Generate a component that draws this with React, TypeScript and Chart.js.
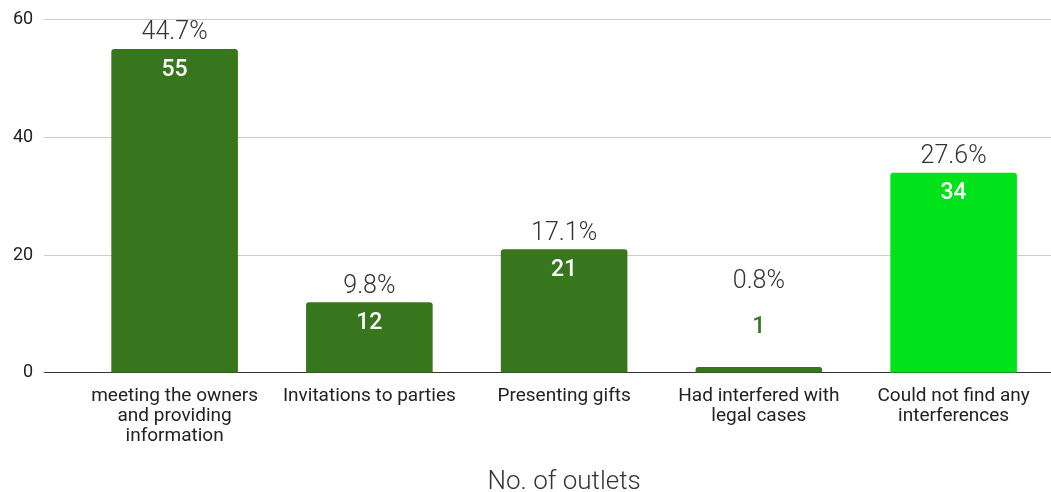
import React, { useEffect, useRef } from 'react';
import { Chart, registerables } from 'chart.js';

Chart.register(...registerables);

const categories: string[][] = [
  ['meeting the owners', 'and providing', 'information'],
  ['Invitations to parties'],
  ['Presenting gifts'],
  ['Had interfered with', 'legal cases'],
  ['Could not find any', 'interferences'],
];
const outletCounts = [55, 12, 21, 1, 34];
const percentShares = [44.7, 9.8, 17.1, 0.8, 27.6];
const yMin = 0;
const yMax = 60;
const yStep = 20;
const barColors = ['#38761d', '#38761d', '#38761d', '#38761d', '#00e31b'];
const axisTitle = 'No. of outlets';

const labelPlugin = {
  id: 'barLabels',
  afterDatasetsDraw(chart: any) {
    const ctx = chart.ctx;
    const meta = chart.getDatasetMeta(0);
    meta.data.forEach((bar: any, i: number) => {
      const { x, y, base } = bar.getProps(['x', 'y', 'base'], true);
      const h = base - y;
      ctx.save();
      ctx.textAlign = 'center';
      ctx.textBaseline = 'middle';
      ctx.font = '500 23px Roboto';
      let valueY: number;
      const inside = h > 40;
      if (inside) {
        ctx.fillStyle = '#ffffff';
        valueY = y + 21;
      } else {
        ctx.fillStyle = barColors[i];
        valueY = y - 40;
      }
      ctx.fillText(String(outletCounts[i]), x, valueY);
      ctx.font = '300 25px Roboto';
      ctx.fillStyle = '#333333';
      const pctY = inside ? y - 16 : valueY - 45;
      ctx.fillText(percentShares[i].toFixed(1) + '%', x, pctY);
      ctx.restore();
    });
  },
};

export default function App() {
  const ref = useRef<HTMLCanvasElement | null>(null);

  useEffect(() => {
    if (!ref.current) return;
    Chart.defaults.font.family = 'Roboto';
    const chart = new Chart(ref.current, {
      type: 'bar',
      data: {
        labels: categories,
        datasets: [
          {
            data: outletCounts,
            backgroundColor: barColors,
            borderRadius: 3,
            barPercentage: 0.65,
            categoryPercentage: 1,
          },
        ],
      },
      options: {
        responsive: false,
        animation: false,
        layout: { padding: { left: 2, right: 0, top: 0, bottom: 0 } },
        plugins: {
          legend: { display: false },
          tooltip: { enabled: false },
        },
        scales: {
          x: {
            grid: { display: false, drawTicks: false },
            border: { display: false },
            ticks: {
              autoSkip: false,
              maxRotation: 0,
              minRotation: 0,
              padding: 13,
              color: '#222222',
              font: { size: 19, lineHeight: 1.05 },
            },
            title: {
              display: true,
              text: axisTitle,
              color: '#333333',
              font: { size: 26, weight: '300', lineHeight: 0.7 },
              padding: { top: 15, bottom: 0 },
            },
          },
          y: {
            min: yMin,
            max: yMax,
            border: { display: false },
            grid: {
              color: (c: any) => (c.tick && c.tick.value === 0 ? '#333333' : '#cccccc'),
              tickLength: 33,
              lineWidth: 1,
            },
            ticks: {
              stepSize: yStep,
              padding: 11,
              color: '#222222',
              font: { size: 18, lineHeight: 0.95 },
            },
          },
        },
      },
      plugins: [labelPlugin],
    });
    return () => chart.destroy();
  }, []);

  return (
    <div style={{ position: 'fixed', left: 0, top: 0, width: 1051, height: 492, background: '#ffffff' }}>
      <canvas ref={ref} width={1051} height={492} />
    </div>
  );
}
